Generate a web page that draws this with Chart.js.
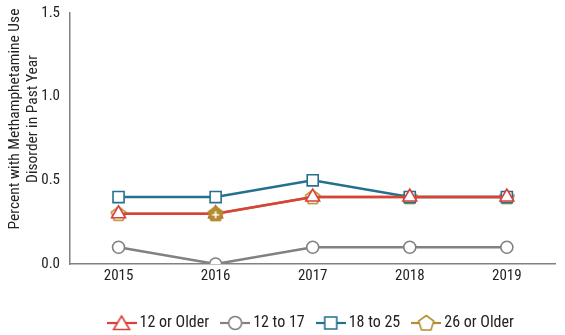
<!DOCTYPE html>
<html><head><meta charset="utf-8">
<script src="https://cdn.jsdelivr.net/npm/chart.js@4"></script>
<style>html,body{margin:0;padding:0;background:#fff}#wrap{width:565px;height:335px}</style>
</head><body><div id="wrap"><canvas id="c"></canvas></div>
<script>
const years = ['2015','2016','2017','2018','2019'];
const olderThan12 = [0.3, 0.3, 0.4, 0.4, 0.4];
const age12to17 = [0.1, 0.0, 0.1, 0.1, 0.1];
const age18to25 = [0.4, 0.4, 0.5, 0.4, 0.4];
const olderThan26 = [0.3, 0.3, 0.4, 0.4, 0.4];
const flagged26 = [false, true, false, false, false];
const yTicks = [0, 0.5, 1.0, 1.5];
const yTitle = ['Percent with Methamphetamine Use', 'Disorder in Past Year'];
const seriesNames = ['12 or Older', '12 to 17', '18 to 25', '26 or Older'];

const RED = '#d8423a', GRAY = '#818181', BLUE = '#25708f', GOLD = '#b38d2e';
const FONT = '"Roboto Condensed", "DejaVu Sans Condensed", sans-serif';

function pentPath(ctx, cx, cy, r) {
  ctx.beginPath();
  for (let i = 0; i < 5; i++) {
    const a = -Math.PI / 2 + i * 2 * Math.PI / 5;
    const px = cx + r * Math.cos(a), py = cy + r * Math.sin(a);
    i ? ctx.lineTo(px, py) : ctx.moveTo(px, py);
  }
  ctx.closePath();
}
function pentCanvas(filled) {
  const c = document.createElement('canvas'); c.width = 18; c.height = 18;
  const g = c.getContext('2d');
  pentPath(g, 9, 9.5, 7.5);
  g.fillStyle = filled ? GOLD : '#fff'; g.fill();
  g.strokeStyle = GOLD; g.lineWidth = 1.6; g.stroke();
  if (filled) {
    g.strokeStyle = '#fff'; g.lineWidth = 1.6;
    g.beginPath(); g.moveTo(5.5, 10); g.lineTo(12.5, 10); g.moveTo(9, 6.5); g.lineTo(9, 13.5); g.stroke();
  }
  return c;
}
function legendIcon(color, shape) {
  const c = document.createElement('canvas'); c.width = 30; c.height = 18;
  const g = c.getContext('2d');
  g.strokeStyle = color; g.lineWidth = 2.2;
  g.beginPath(); g.moveTo(0, 9); g.lineTo(30, 9); g.stroke();
  g.fillStyle = '#fff'; g.lineWidth = 1.6;
  g.beginPath();
  if (shape === 'triangle') { g.moveTo(15, 2); g.lineTo(23, 15.5); g.lineTo(7, 15.5); g.closePath(); }
  else if (shape === 'circle') { g.arc(15, 9, 6.5, 0, Math.PI * 2); }
  else if (shape === 'rect') { g.rect(9, 3, 12, 12); }
  else { pentPath(g, 15, 9.5, 8); }
  g.fill(); g.stroke();
  return c;
}
const pentHollow = pentCanvas(false), pentFilled = pentCanvas(true);
const icons = [legendIcon(RED, 'triangle'), legendIcon(GRAY, 'circle'), legendIcon(BLUE, 'rect'), legendIcon(GOLD, 'pent')];

const base = { borderWidth: 2.5, pointBorderWidth: 1.6, pointBackgroundColor: '#fff', pointHoverRadius: 7, tension: 0, fill: false };

const flagPlugin = {
  id: 'flag',
  afterDatasetsDraw(chart) {
    const meta = chart.getDatasetMeta(3);
    const ctx = chart.ctx;
    flagged26.forEach((f, i) => { if (f && meta.data[i]) meta.data[i].draw(ctx, chart.chartArea); });
  }
};
const titlePlugin = {
  id: 'ytitle',
  afterDraw(chart) {
    const ctx = chart.ctx;
    ctx.save();
    ctx.fillStyle = '#222';
    ctx.font = '15.5px ' + FONT;
    ctx.textAlign = 'center'; ctx.textBaseline = 'middle';
    ctx.translate(0, 119); ctx.rotate(-Math.PI / 2);
    yTitle.forEach((t, i) => ctx.fillText(t, 0, 15 + i * 18));
    ctx.restore();
  }
};

new Chart(document.getElementById('c'), {
  type: 'line',
  data: {
    labels: years,
    datasets: [
      Object.assign({}, base, { label: seriesNames[0], data: olderThan12, borderColor: RED, pointBorderColor: RED, pointStyle: 'triangle', pointRadius: 8, order: 1 }),
      Object.assign({}, base, { label: seriesNames[1], data: age12to17, borderColor: GRAY, pointBorderColor: GRAY, pointStyle: 'circle', pointRadius: 6, order: 3 }),
      Object.assign({}, base, { label: seriesNames[2], data: age18to25, borderColor: BLUE, pointBorderColor: BLUE, pointStyle: 'rect', pointRadius: 7.8, order: 2 }),
      Object.assign({}, base, { label: seriesNames[3], data: olderThan26, borderColor: GOLD, pointBorderColor: GOLD, pointStyle: flagged26.map(f => f ? pentFilled : pentHollow), pointRadius: 7, order: 4 })
    ]
  },
  options: {
    responsive: true, maintainAspectRatio: false, animation: false,
    layout: { padding: { top: 13, right: 7, left: 0, bottom: -6 } },
    plugins: {
      tooltip: { enabled: false },
      legend: {
        position: 'bottom', fullSize: false,
        labels: {
          usePointStyle: true, pointStyleWidth: 20, padding: 16,
          color: '#222', font: { family: FONT, size: 16 },
          generateLabels(chart) {
            return chart.data.datasets.map((d, i) => ({
              text: d.label, pointStyle: icons[i], datasetIndex: i, hidden: false,
              fillStyle: '#fff', strokeStyle: d.borderColor, lineWidth: 0, fontColor: '#222'
            }));
          }
        }
      }
    },
    scales: {
      x: {
        offset: true,
        grid: { display: false, drawTicks: false },
        border: { display: true, color: GRAY, width: 1.5 },
        ticks: { color: '#222', font: { family: FONT, size: 15 }, padding: 3, maxRotation: 0 },
        afterFit(s) { s.height = 35; s.paddingLeft = 0; s.paddingRight = 0; }
      },
      y: {
        min: 0, max: 1.5,
        grid: { display: false, drawTicks: false },
        border: { display: true, color: GRAY, width: 1.5 },
        afterBuildTicks(s) { s.ticks = yTicks.map(v => ({ value: v })); },
        ticks: { color: '#222', font: { family: FONT, size: 15 }, padding: 10, callback: v => Number(v).toFixed(1) },
        afterFit(s) { s.width = 70; s.paddingTop = 0; s.paddingBottom = 0; }
      }
    }
  },
  plugins: [flagPlugin, titlePlugin]
});
</script></body></html>
